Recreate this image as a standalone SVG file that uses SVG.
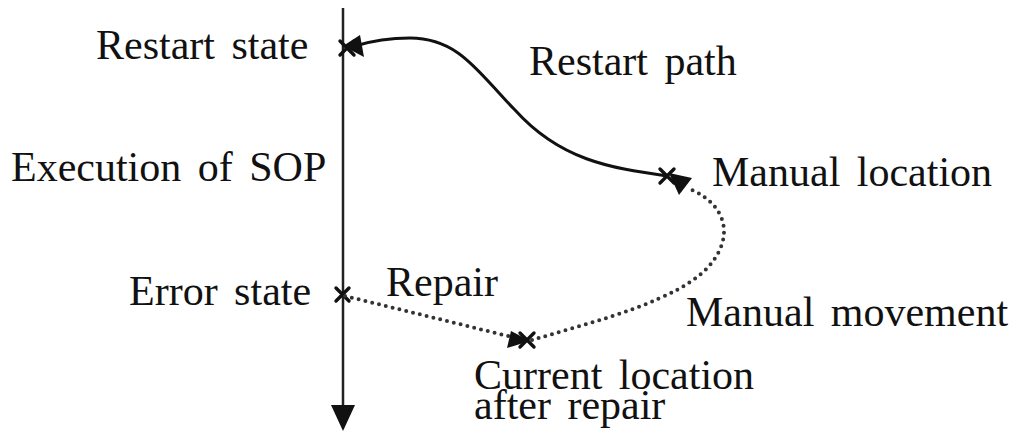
<svg xmlns="http://www.w3.org/2000/svg" width="1019" height="436" viewBox="0 0 1019 436">
  <style>
    text { font-family: "Liberation Serif", "Times New Roman", serif; font-size: 42px; fill: #111; word-spacing: 6px; }
    .axis { stroke: #222; stroke-width: 2.5; fill: none; }
    .solid { stroke: #111; stroke-width: 3; fill: none; }
    .dotted { stroke: #333; stroke-width: 4; fill: none; stroke-dasharray: 0 7; stroke-linecap: round; }
    .mark { stroke: #111; stroke-width: 3.4; stroke-linecap: round; }
    .head { fill: #111; }
  </style>

  <!-- timeline of the SOP execution -->
  <g id="timeline">
    <line class="axis" x1="343" y1="8" x2="343" y2="410"/>
    <polygon class="head" points="331,405 355,405 343,431"/>
    <text x="11" y="181">Execution of SOP</text>
  </g>

  <g id="restart-state">
    <path class="mark" d="M340,41 L354,55 M354,41 L340,55"/>
    <text x="96" y="59">Restart state</text>
  </g>

  <g id="error-state">
    <path class="mark" d="M336,288 L349,301 M349,288 L336,301"/>
    <text x="129" y="305">Error state</text>
  </g>

  <g id="manual-location">
    <path class="mark" d="M660,169 L674,183 M674,169 L660,183"/>
    <text x="712" y="186">Manual location</text>
  </g>

  <g id="current-location">
    <path class="mark" d="M520,333 L534,347 M534,333 L520,347"/>
    <text x="474" y="389"><tspan x="474" y="389">Current location</tspan><tspan x="474" y="419">after repair</tspan></text>
  </g>

  <!-- connectors -->
  <g id="connectors">
    <!-- restart path -->
    <path class="solid" d="M667,176 C610,168 560,160 515,110 C480,75 460,38 410,38 C385,38 368,42 355,46"/>
    <polygon class="head" points="343,46 360,35 364,57"/>
    <text x="529" y="75">Restart path</text>

    <!-- repair -->
    <path class="dotted" d="M345,296 L512,337"/>
    <polygon class="head" points="530,341 511,331 507,348"/>
    <text x="386" y="296">Repair</text>

    <!-- manual movement -->
    <path class="dotted" d="M532,340 C600,320 680,300 710,265 C735,235 725,205 692,190"/>
    <polygon class="head" points="669,173 692,178 679,195"/>
    <text x="686" y="326">Manual movement</text>
  </g>
</svg>
